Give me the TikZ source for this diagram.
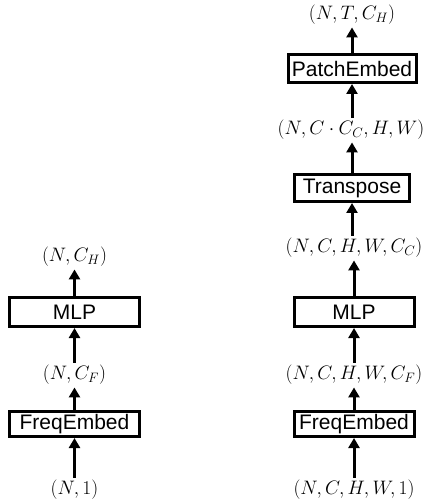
\RequirePackage{fix-cm}
\documentclass[tikz,border=0pt]{standalone}
\usepackage{fontspec}
\newfontfamily\boxfont{Liberation Sans}
\usetikzlibrary{arrows.meta}
\begin{document}
\begin{tikzpicture}[x=1pt,y=-1pt,
  blk/.style={draw,line width=3pt,inner sep=0pt,font=\boxfont\fontsize{21}{21}\selectfont},
  lab/.style={inner sep=2.5pt,font=\fontsize{19.5}{19.5}\selectfont},
  arr/.style={line width=3pt,-{Triangle[length=10pt,width=11pt]}}]
\useasboundingbox (0,0) rectangle (424,502);
% left column
\node[lab] (l0) at (74.5,490) {$(N,1)$};
\node[blk,minimum width=130.5pt,minimum height=25pt] (lfe) at (74.5,424) {FreqEmbed};
\node[lab] (l1) at (74.5,375) {$(N,C_F)$};
\node[blk,minimum width=130.5pt,minimum height=29pt] (lmlp) at (74.5,312) {MLP};
\node[lab] (l2) at (74.5,257) {$(N,C_H)$};
\draw[arr] (l0.north) -- (lfe.south);
\draw[arr] (lfe.north) -- (l1.south);
\draw[arr] (l1.north) -- (lmlp.south);
\draw[arr] (lmlp.north) -- (l2.south);
% right column
\node[lab] (r0) at (354,490) {$(N,C,H,W,1)$};
\node[blk,minimum width=120pt,minimum height=25pt] (rfe) at (354,424) {FreqEmbed};
\node[lab] (r1) at (354,375) {$(N,C,H,W,C_F)$};
\node[blk,minimum width=120pt,minimum height=29pt] (rmlp) at (354,312) {MLP};
\node[lab] (r2) at (354,248) {$(N,C,H,W,C_C)$};
\node[blk,minimum width=115pt,minimum height=27pt] (rtr) at (352,188) {Transpose};
\node[lab] (r3) at (351,130) {$(N,C\cdot C_C,H,W)$};
\node[blk,minimum width=128pt,minimum height=28pt] (rpe) at (352,68.5) {PatchEmbed};
\node[lab] (r4) at (352,15) {$(N,T,C_H)$};
\draw[arr] (r0.north) -- (rfe.south);
\draw[arr] (rfe.north) -- (r1.south);
\draw[arr] (r1.north) -- (rmlp.south);
\draw[arr] (rmlp.north) -- (r2.south);
\draw[arr] (r2.north -| rtr.south) -- (rtr.south);
\draw[arr] (rtr.north) -- (r3.south -| rtr.north);
\draw[arr] (r3.north -| rpe.south) -- (rpe.south);
\draw[arr] (rpe.north) -- (r4.south);
\end{tikzpicture}
\end{document}
